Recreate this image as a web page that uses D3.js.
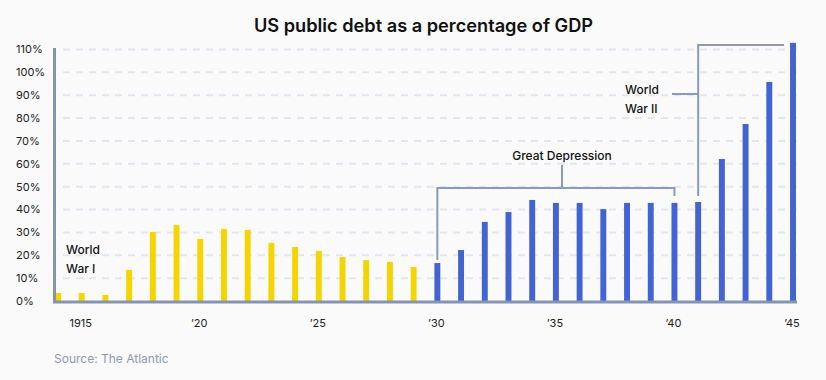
<!DOCTYPE html>
<html><head><meta charset="utf-8">
<script src="https://cdn.jsdelivr.net/npm/d3@7"></script>
<style>
html,body{margin:0;padding:0;background:#fafafa;}
svg{display:block;font-family:Inter,"Noto Sans",sans-serif;}
</style></head>
<body><svg id="c" width="826" height="380"></svg>
<script>
const years = d3.range(1914, 1946);
const debtPct = [3.5,3.5,2.6,13.6,30.2,33.2,27.1,31.5,31.1,25.4,23.6,21.9,19.2,17.9,17.1,14.9,
                 16.6,22.3,34.6,38.9,44.2,42.9,42.9,40.2,42.9,42.9,42.9,43.3,62.1,77.4,95.8,112.9];
const era = years.map(y => y < 1930 ? "pre" : "post");
const yTicks = [0,10,20,30,40,50,60,70,80,90,100,110];
const xTickYears = [1915,1920,1925,1930,1935,1940,1945];
const xTickLabels = ["1915","\u201920","\u201925","\u201930","\u201935","\u201940","\u201945"];

const svg = d3.select("#c");
const colors = {pre:"#f5d400", post:"#4263d2"};
const axisCol = "#8494b4", annCol = "#8a9ab8";

const x = d3.scaleBand().domain(years).range([46.14, 804.86]).paddingInner(0.75).paddingOuter(0.375);
const y = d3.scaleLinear().domain([0,110]).range([301, 49.5]);
const plotL = 54.5, plotR = 797;

svg.append("text").attr("x", 423.5).attr("y", 32).attr("text-anchor","middle")
  .attr("font-size", 18.2).attr("font-weight", 600).attr("fill", "#111")
  .text("US public debt as a percentage of GDP");

// gridlines
svg.append("g").selectAll("line").data(yTicks.filter(d => d > 0)).join("line")
  .attr("x1", 63).attr("x2", plotR).attr("y1", d => y(d)).attr("y2", d => y(d))
  .attr("stroke", "#e3e6ed").attr("stroke-width", 2).attr("stroke-dasharray", "7,6");

// y labels
svg.append("g").selectAll("text").data(yTicks).join("text")
  .attr("x", 16).attr("y", d => y(d)).attr("dy", "0.35em")
  .attr("font-size", 11).attr("fill", "#222").text(d => d + "%");

// bars
svg.append("g").selectAll("rect").data(years).join("rect")
  .attr("x", d => x(d)).attr("width", x.bandwidth())
  .attr("y", (d,i) => y(debtPct[i])).attr("height", (d,i) => y(0) - y(debtPct[i]))
  .attr("fill", (d,i) => colors[era[i]]);

// axes lines
svg.append("line").attr("x1", plotL).attr("x2", plotL).attr("y1", 48).attr("y2", 302.5)
  .attr("stroke", axisCol).attr("stroke-width", 3);
svg.append("line").attr("x1", 53).attr("x2", plotR).attr("y1", 302).attr("y2", 302)
  .attr("stroke", axisCol).attr("stroke-width", 3);

// x labels
svg.append("g").selectAll("text").data(xTickYears).join("text")
  .attr("x", d => x(d) + x.bandwidth()/2 - 1).attr("y", 323).attr("dy", "0.35em")
  .attr("text-anchor", "middle").attr("font-size", 11).attr("fill", "#222")
  .text((d,i) => xTickLabels[i]);

// annotations
const cx = yr => x(yr) + x.bandwidth()/2;
const ann = svg.append("g").attr("fill","none").attr("stroke", annCol).attr("stroke-width", 2);
// Great Depression bracket
const gdTop = 188;
ann.append("path").attr("d",
  `M${cx(1930)},${y(debtPct[16]) - 3} V${gdTop} H${cx(1940)} V${y(debtPct[26]) - 7}`);
const gdMid = 562;
ann.append("path").attr("d", `M${gdMid},${gdTop} V165`);
svg.append("text").attr("x", gdMid).attr("y", 156).attr("dy","0.35em").attr("text-anchor","middle")
  .attr("font-size", 12).attr("font-weight", 500).attr("fill", "#111").text("Great Depression");
// WWII bracket
const wwTop = 45;
ann.append("path").attr("d",
  `M${cx(1941)},${y(debtPct[27]) - 6} V${wwTop} H${cx(1945) - 9}`);
ann.append("path").attr("d", `M672,94 H${cx(1941)}`);
svg.append("text").attr("x", 625).attr("y", 90).attr("dy","0.35em")
  .attr("font-size", 12).attr("font-weight", 500).attr("fill", "#111").text("World");
svg.append("text").attr("x", 625).attr("y", 109).attr("dy","0.35em")
  .attr("font-size", 12).attr("font-weight", 500).attr("fill", "#111").text("War II");
// WWI label
svg.append("text").attr("x", 66).attr("y", 250).attr("dy","0.35em")
  .attr("font-size", 12).attr("font-weight", 500).attr("fill", "#111").text("World");
svg.append("text").attr("x", 66).attr("y", 269).attr("dy","0.35em")
  .attr("font-size", 12).attr("font-weight", 500).attr("fill", "#111").text("War I");

svg.append("text").attr("x", 54).attr("y", 359).attr("dy","0.35em")
  .attr("font-size", 12).attr("fill", "#8a9ab8").text("Source: The Atlantic");
</script></body></html>
